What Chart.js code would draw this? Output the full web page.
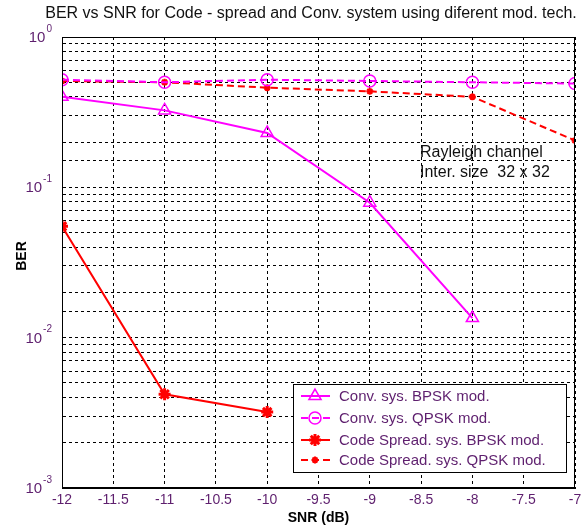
<!DOCTYPE html>
<html>
<head>
<meta charset="utf-8">
<script src="https://cdn.jsdelivr.net/npm/chart.js@4/dist/chart.umd.min.js"></script>
<style>
  html, body { margin: 0; padding: 0; background: #fff; }
  #wrap { width: 586px; height: 527px; }
</style>
</head>
<body>
<div id="wrap"><canvas id="berChart" width="586" height="527"></canvas></div>
<script>
// SNR values (dB)
var snr = [-12, -11, -10, -9, -8, -7];

// BER values
var convBpsk = [0.40, 0.325, 0.23, 0.079, 0.0135, null];
var convQpsk = [0.52, 0.50, 0.52, 0.51, 0.50, 0.49];
var spreadBpsk = [0.055, 0.0042, 0.0032, null, null, null];
var spreadQpsk = [0.51, 0.50, 0.46, 0.435, 0.40, 0.205];

var seriesLabels = [
    "Conv. sys. BPSK mod.",
    "Conv. sys. QPSK mod.",
    "Code Spread. sys. BPSK mod.",
    "Code Spread. sys. QPSK mod."
];

var yDecades = [1, 0.1, 0.01, 0.001];
var yExponents = ["0", "-1", "-2", "-3"];

var chartTitle = "BER vs SNR for Code - spread and Conv. system using diferent mod. tech.";
var noteLines = ["Rayleigh channel", "Inter. size  32 x 32"];

var tickColor = "#5e1f6e";
var fontFam = "'Liberation Sans', Arial, sans-serif";

function toPoints(vals) {
    var out = [];
    for (var i = 0; i < snr.length; i++) {
        if (vals[i] !== null) out.push({ x: snr[i], y: vals[i] });
    }
    return out;
}

function markerStyle(ds) {
    return {
        pointStyle: ds.pointStyle,
        radius: ds.pointRadius,
        borderWidth: ds.pointBorderWidth,
        rotation: 0
    };
}

// draws the title, y tick labels, axis titles, frame, note and legend
var textPlugin = {
    id: 'textPlugin',
    afterDraw: function (chart) {
        var ctx = chart.ctx;
        var area = chart.chartArea;
        var yScale = chart.scales.y;
        ctx.save();

        // frame
        ctx.strokeStyle = '#000';
        ctx.lineWidth = 1;
        ctx.setLineDash([]);
        ctx.strokeRect(area.left + 0.5, area.top + 0.5, area.right - area.left - 1, area.bottom - area.top - 1);

        // title
        ctx.fillStyle = '#111';
        ctx.font = "16px " + fontFam;
        ctx.textAlign = 'center';
        ctx.textBaseline = 'middle';
        ctx.fillText(chartTitle, 311, 14);

        // y tick labels 10^n
        for (var i = 0; i < yDecades.length; i++) {
            var py = yScale.getPixelForValue(yDecades[i]);
            ctx.fillStyle = tickColor;
            ctx.textBaseline = 'middle';
            ctx.font = "10px " + fontFam;
            var expW = ctx.measureText(yExponents[i]).width;
            ctx.textAlign = 'left';
            ctx.fillText(yExponents[i], 51 - expW + 1, py - 8);
            ctx.font = "15px " + fontFam;
            ctx.textAlign = 'right';
            ctx.fillText("10", 51 - expW, py + 1);
        }

        // axis titles
        ctx.fillStyle = '#000';
        ctx.font = "bold 14px " + fontFam;
        ctx.textAlign = 'center';
        ctx.textBaseline = 'middle';
        ctx.fillText("SNR (dB)", (area.left + area.right) / 2, 518);
        ctx.save();
        ctx.translate(22, 256);
        ctx.rotate(-Math.PI / 2);
        ctx.fillText("BER", 0, 0);
        ctx.restore();

        // note
        ctx.font = "16px " + fontFam;
        ctx.textAlign = 'left';
        ctx.fillStyle = '#111';
        ctx.fillText(noteLines[0], 420, 153);
        ctx.fillText(noteLines[1], 420, 173);

        // legend
        var bx = 293, by = 384, bw = 273, bh = 88;
        ctx.fillStyle = '#fff';
        ctx.fillRect(bx, by, bw, bh);
        ctx.strokeStyle = '#000';
        ctx.lineWidth = 1;
        ctx.strokeRect(bx + 0.5, by + 0.5, bw, bh);
        var rows = [396, 418, 440, 460];
        chart.data.datasets.forEach(function (ds, k) {
            var ry = rows[k];
            ctx.strokeStyle = ds.borderColor;
            ctx.lineWidth = ds.borderWidth;
            ctx.setLineDash(ds.borderDash || []);
            ctx.beginPath();
            ctx.moveTo(301, ry);
            ctx.lineTo(330, ry);
            ctx.stroke();
            ctx.setLineDash([]);
            ctx.lineWidth = ds.pointBorderWidth;
            ctx.strokeStyle = ds.pointBorderColor;
            ctx.fillStyle = ds.pointBackgroundColor;
            Chart.helpers.drawPoint(ctx, markerStyle(ds), 315, ry);
            ctx.fillStyle = tickColor;
            ctx.font = "15px " + fontFam;
            ctx.textAlign = 'left';
            ctx.textBaseline = 'middle';
            ctx.fillText(ds.label, 339, ry + 1);
        });

        ctx.restore();
    }
};

var ctx = document.getElementById('berChart').getContext('2d');
var berChart = new Chart(ctx, {
    type: 'line',
    data: {
        datasets: [{
            label: seriesLabels[0],
            data: toPoints(convBpsk),
            borderColor: '#ff00ff',
            borderWidth: 2,
            pointStyle: 'triangle',
            pointRadius: 7,
            pointBorderWidth: 1.5,
            pointBorderColor: '#ff00ff',
            pointBackgroundColor: 'rgba(255,255,255,0)',
            fill: false
        }, {
            label: seriesLabels[1],
            data: toPoints(convQpsk),
            borderColor: '#ff00ff',
            borderWidth: 2,
            borderDash: [7, 4],
            pointStyle: 'circle',
            pointRadius: 6,
            pointBorderWidth: 1.5,
            pointBorderColor: '#ff00ff',
            pointBackgroundColor: 'rgba(255,255,255,0)',
            fill: false
        }, {
            label: seriesLabels[2],
            data: toPoints(spreadBpsk),
            borderColor: '#ff0000',
            borderWidth: 2,
            pointStyle: 'star',
            pointRadius: 6,
            pointBorderWidth: 3,
            pointBorderColor: '#ff0000',
            pointBackgroundColor: '#ff0000',
            fill: false
        }, {
            label: seriesLabels[3],
            data: toPoints(spreadQpsk),
            borderColor: '#ff0000',
            borderWidth: 2,
            borderDash: [7, 4],
            pointStyle: 'star',
            pointRadius: 3.5,
            pointBorderWidth: 2,
            pointBorderColor: '#ff0000',
            pointBackgroundColor: '#ff0000',
            fill: false
        }]
    },
    options: {
        responsive: false,
        animation: false,
        layout: {
            padding: { left: 0, right: 11, top: 37, bottom: 0 }
        },
        scales: {
            x: {
                type: 'linear',
                min: -12,
                max: -7,
                afterFit: function (scale) { scale.height = 39; },
                ticks: {
                    stepSize: 0.5,
                    color: tickColor,
                    font: { family: fontFam, size: 14 },
                    padding: 4,
                    maxRotation: 0,
                    callback: function (value) { return String(value); }
                },
                grid: {
                    color: '#000',
                    lineWidth: 1,
                    drawTicks: false
                },
                border: { color: '#000', width: 1, dash: [3, 3] }
            },
            y: {
                type: 'logarithmic',
                min: 0.001,
                max: 1,
                afterFit: function (scale) { scale.width = 62; },
                ticks: { display: false, autoSkip: false },
                grid: {
                    color: '#000',
                    lineWidth: 1,
                    drawTicks: false
                },
                border: { color: '#000', width: 1, dash: [3, 3] }
            }
        },
        plugins: {
            legend: { display: false },
            title: { display: false },
            tooltip: { enabled: false }
        }
    },
    plugins: [textPlugin]
});
</script>
</body>
</html>
